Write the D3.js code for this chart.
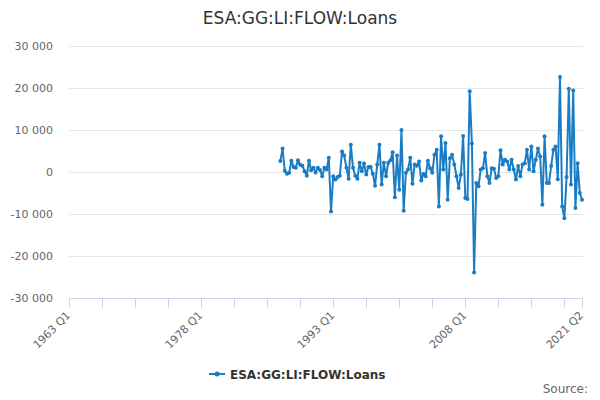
<!DOCTYPE html>
<html>
<head>
<meta charset="utf-8">
<script src="https://cdn.jsdelivr.net/npm/d3@7"></script>
<style>
  body { margin: 0; background: #fff; }
  svg { display: block; font-family: 'DejaVu Sans', sans-serif; }
  .grid line { stroke: #e6e6e6; stroke-width: 1; }
  .axis text { fill: #666; font-size: 11px; }
</style>
</head>
<body>
<svg id="chart" width="600" height="400"></svg>
<script>
const TITLE = 'ESA:GG:LI:FLOW:Loans'
const FIRST_YEAR = 1963
const LAST_LABEL = '2021 Q2'
const SERIES_START = '1987 Q1'
const X_LABELS = ['1963 Q1', '1978 Q1', '1993 Q1', '2008 Q1', '2021 Q2']
const Y_TICKS = [-30000, -20000, -10000, 0, 10000, 20000, 30000]

// quarterly flows, 1987 Q1 .. 2021 Q2
const LOANS = [
  2600, 5600, 300, -400, -200, 2700, 1200, 1000, 2800, 1700,
  1500, 200, -900, 2700, 400, 1000, -100, 1000, 500, -1000,
  1000, 600, 3400, -9400, -1000, -1800, -1200, -900, 4900, 3900,
  1000, -1600, 6500, 1000, -900, -1600, 2200, 200, 2000, -600,
  1200, 1200, -400, -3300, 1800, 6500, -3000, 2200, -1000, 2200,
  2800, 4700, -6000, 3900, -4200, 10000, -9200, -200, 600, 3400,
  -2800, 1800, 1500, 2500, -2000, -500, -1000, 2700, 900, -200,
  4100, 5300, -8200, 8500, 600, 6900, -6600, 3300, 4100, 1800,
  -1000, -3800, -600, 8600, -6200, -6400, 19200, 6800, -23900, -2600,
  -3400, 600, 900, 4500, -1000, -2600, 900, 800, -1400, -1000,
  5200, 1800, 2900, 2500, 600, 2900, 600, -1800, 1400, -1000,
  1800, 2100, 5300, 600, 6100, 200, 2900, 5600, 3700, -7800,
  8500, -2600, -2600, 1400, 5300, 6100, -1700, 22600, -8200, -11000,
  -1200, 19800, -3000, 19400, -8600, 2100, -5000, -6600,
]

const COLOR = '#1a7dc4'

// quarter labels for the category axis
const quarters = []
for (let y = FIRST_YEAR; ; y++) {
  let done = false
  for (let q = 1; q <= 4; q++) {
    const label = `${y} Q${q}`
    quarters.push(label)
    if (label === LAST_LABEL) { done = true; break }
  }
  if (done) break
}

const startIdx = quarters.indexOf(SERIES_START)
const data = LOANS.map((v, i) => ({cat: quarters[startIdx + i], value: v}))

const svg = d3.select('#chart')
const plot = {left: 69, right: 582, top: 46, bottom: 298}

const x = d3.scalePoint().domain(quarters).range([plot.left, plot.right])
const y = d3.scaleLinear().domain([-30000, 30000]).range([plot.bottom, plot.top])

const fmt = (d) => d3.format(',')(d).replace(/,/g, ' ').replace('−', '-')

// title
svg.append('text')
  .attr('x', 300)
  .attr('y', 24)
  .attr('text-anchor', 'middle')
  .attr('fill', '#333')
  .style('font-size', '17px')
  .text(TITLE)

// horizontal grid + y labels
const grid = svg.append('g').attr('class', 'grid')
grid.selectAll('line')
  .data(Y_TICKS.filter((d) => d !== -30000))
  .enter()
  .append('line')
  .attr('x1', plot.left)
  .attr('x2', plot.right + 1)
  .attr('y1', (d) => Math.round(y(d)) + 0.5)
  .attr('y2', (d) => Math.round(y(d)) + 0.5)

svg.append('g')
  .attr('class', 'axis axis--y')
  .selectAll('text')
  .data(Y_TICKS)
  .enter()
  .append('text')
  .attr('x', 53)
  .attr('y', (d) => y(d) + 4)
  .attr('text-anchor', 'end')
  .text(fmt)

// x axis: tick every 15 quarters plus the last one
const tickCats = quarters.filter((d, i) => i % 15 === 0)
tickCats.push(LAST_LABEL)

const xAxis = svg.append('g').attr('class', 'axis axis--x')
xAxis.append('line')
  .attr('x1', plot.left)
  .attr('x2', plot.right + 1)
  .attr('y1', plot.bottom + 0.5)
  .attr('y2', plot.bottom + 0.5)
  .attr('stroke', '#ccd6eb')
xAxis.selectAll('.tick')
  .data(tickCats)
  .enter()
  .append('line')
  .attr('class', 'tick')
  .attr('x1', (d) => Math.round(x(d)) + 0.5)
  .attr('x2', (d) => Math.round(x(d)) + 0.5)
  .attr('y1', plot.bottom)
  .attr('y2', plot.bottom + 10)
  .attr('stroke', '#ccd6eb')
xAxis.selectAll('.label')
  .data(X_LABELS)
  .enter()
  .append('text')
  .attr('class', 'label')
  .attr('text-anchor', 'end')
  .attr('transform', (d) => `translate(${x(d) + 2}, ${plot.bottom + 18}) rotate(-45)`)
  .text((d) => d)

// series
const line = d3.line()
  .x((d) => x(d.cat))
  .y((d) => y(d.value))

svg.append('path')
  .datum(data)
  .attr('fill', 'none')
  .attr('stroke', COLOR)
  .attr('stroke-width', 2)
  .attr('stroke-linejoin', 'round')
  .attr('d', line)

svg.append('g')
  .selectAll('circle')
  .data(data)
  .enter()
  .append('circle')
  .attr('cx', (d) => x(d.cat))
  .attr('cy', (d) => y(d.value))
  .attr('r', 2)
  .attr('fill', COLOR)

// legend
const legend = svg.append('g').attr('transform', 'translate(209, 374)')
legend.append('line')
  .attr('x1', 0)
  .attr('x2', 16)
  .attr('stroke', COLOR)
  .attr('stroke-width', 2)
legend.append('circle')
  .attr('cx', 8)
  .attr('r', 2.5)
  .attr('fill', COLOR)
legend.append('text')
  .attr('x', 21)
  .attr('y', 4.5)
  .attr('fill', '#333')
  .style('font-size', '12px')
  .style('font-weight', 'bold')
  .text(TITLE)

svg.append('text')
  .attr('x', 588)
  .attr('y', 393)
  .attr('text-anchor', 'end')
  .attr('fill', '#666')
  .style('font-size', '12px')
  .text('Source:')
</script>
</body>
</html>
